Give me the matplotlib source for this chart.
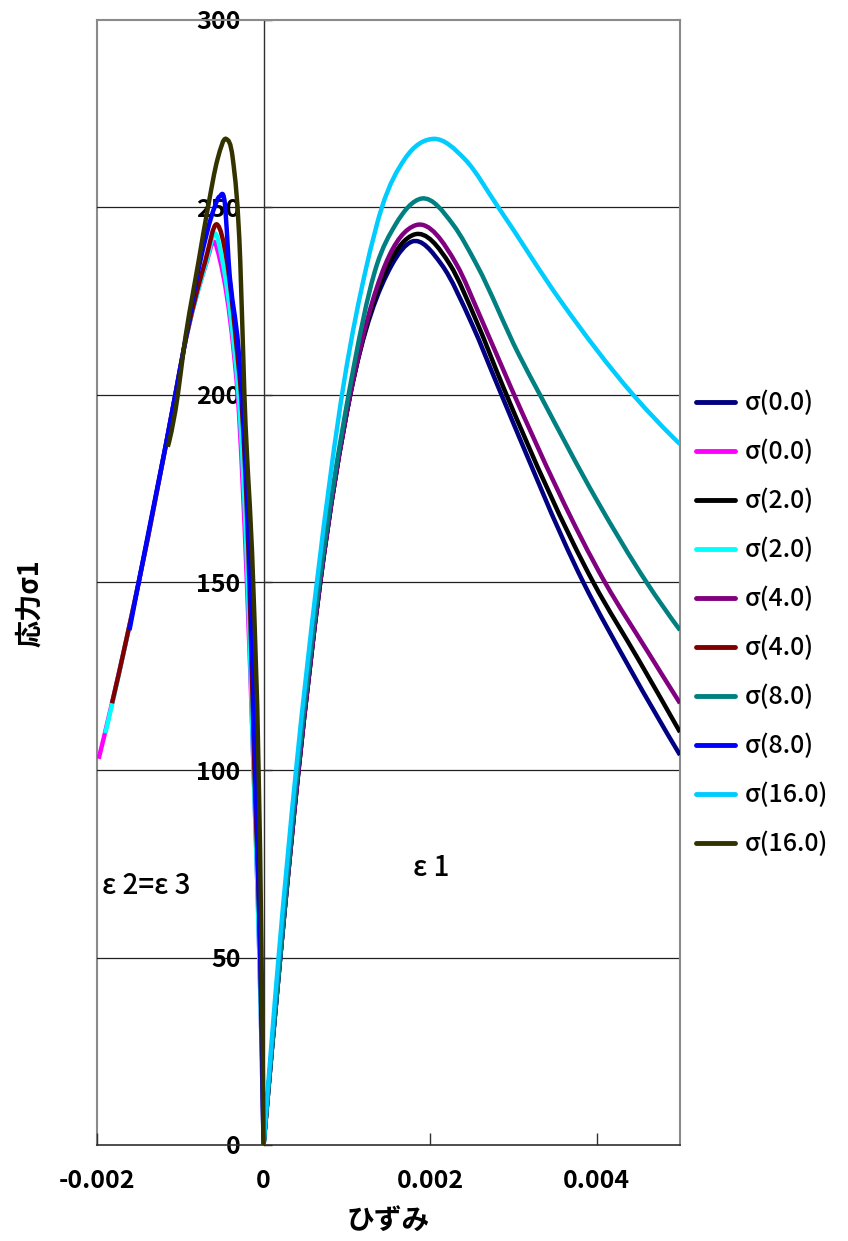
import matplotlib
matplotlib.use("Agg")
import matplotlib.pyplot as plt
from matplotlib.path import Path
from matplotlib.patches import PathPatch
from matplotlib.lines import Line2D

plt.rcParams['font.family'] = ['Noto Sans CJK JP', 'DejaVu Sans']
plt.rcParams['axes.unicode_minus'] = False

# ---------------- data ----------------
labels = ["σ(0.0)", "σ(0.0)", "σ(2.0)", "σ(2.0)", "σ(4.0)",
          "σ(4.0)", "σ(8.0)", "σ(8.0)", "σ(16.0)", "σ(16.0)"]
colors = ["#000080", "#FF00FF", "#000000", "#00FFFF", "#800080",
          "#800000", "#008080", "#0000FF", "#00CCFF", "#333300"]

# σ(0.0)  ε1
x_s0_e1 = [0, 0.0002, 0.00042, 0.00068, 0.00104, 0.00154, 0.00178,
           0.00214, 0.0025, 0.00282, 0.00384, 0.0044, 0.005]
y_s0_e1 = [0, 50, 100, 150, 200, 234.7, 240.9,
           234.7, 219, 202, 150, 127, 104]
# σ(0.0)  ε2=ε3
x_s0_e2 = [0, -0.00005, -0.00012, -0.0002, -0.00031, -0.00036, -0.00052, -0.0006,
           -0.00068, -0.00096, -0.00106, -0.0015, -0.00198]
y_s0_e2 = [0, 50, 100, 150, 200, 212, 235.7, 240.9,
           235.7, 212, 200, 150, 103]
# σ(2.0)  ε1
x_s2_e1 = [0, 0.0002, 0.00042, 0.00068, 0.00104, 0.0015, 0.00181,
           0.00224, 0.00255, 0.00288, 0.00396, 0.0045, 0.005]
y_s2_e1 = [0, 50, 100, 150, 200, 234.7, 242.8,
           234.7, 220, 202, 150, 129.5, 110.1]
# σ(2.0)  ε2=ε3
x_s2_e2 = [0, -0.00005, -0.00012, -0.00019, -0.0003, -0.00035, -0.0005, -0.00058,
           -0.00068, -0.00096, -0.00106, -0.0015, -0.0019]
y_s2_e2 = [0, 50, 100, 150, 200, 212, 236.5, 243.1,
           236, 212, 200, 150, 109.8]
# σ(4.0)  ε1
x_s4_e1 = [0, 0.0002, 0.00042, 0.00068, 0.00104, 0.00146, 0.00183,
           0.00232, 0.0026, 0.00297, 0.0041, 0.0046, 0.005]
y_s4_e1 = [0, 50, 100, 150, 200, 234.7, 245.3,
           234.7, 221, 202, 150, 132, 117.8]
# σ(4.0)  ε2=ε3
x_s4_e2 = [0, -0.00004, -0.00011, -0.00017, -0.00027, -0.00032, -0.00044, -0.00056,
           -0.0007, -0.00096, -0.00106, -0.0015, -0.00182]
y_s4_e2 = [0, 50, 100, 150, 200, 212, 235.7, 245.5,
           235.7, 212, 200, 150, 117.8]
# σ(8.0)  ε1
x_s8_e1 = [0, 0.0002, 0.00041, 0.00067, 0.00102, 0.00136, 0.00158, 0.0019,
           0.00228, 0.00256, 0.00306, 0.00332, 0.004, 0.0046, 0.005]
y_s8_e1 = [0, 50, 100, 150, 200, 234.7, 245.3, 252.4,
           245.3, 234.7, 211, 200, 172, 150, 137.3]
# σ(8.0)  ε2=ε3
x_s8_e2 = [0, -0.00004, -0.0001, -0.00016, -0.00026, -0.0003, -0.00042, -0.00046, -0.00053,
           -0.00059, -0.00076, -0.00096, -0.00106, -0.0015, -0.00161]
y_s8_e2 = [0, 50, 100, 150, 200, 212, 235.7, 250, 252.9,
           250, 235.7, 212, 200, 150, 137.3]
# σ(16.0) ε1
x_s16_e1 = [0, 0.00018, 0.00039, 0.00064, 0.00097, 0.00124, 0.00142, 0.0017, 0.00204,
            0.00242, 0.00282, 0.00356, 0.00444, 0.005]
y_s16_e1 = [0, 50, 100, 150, 204, 234.7, 250, 263.1, 268.3,
            262.8, 250, 225.3, 200, 186.9]
# σ(16.0) ε2=ε3
x_s16_e2 = [0, -0.000024, -0.00006, -0.000125, -0.00023, -0.00028, -0.00037,
            -0.00045, -0.00055, -0.000668, -0.00078, -0.00096, -0.00103, -0.00115]
y_s16_e2 = [0, 50, 100, 150, 200, 235.7, 263.1,
            268.3, 263.1, 250, 235.7, 212, 200, 186.2]

series_x = [x_s0_e1, x_s0_e2, x_s2_e1, x_s2_e2, x_s4_e1,
            x_s4_e2, x_s8_e1, x_s8_e2, x_s16_e1, x_s16_e2]
series_y = [y_s0_e1, y_s0_e2, y_s2_e1, y_s2_e2, y_s4_e1,
            y_s4_e2, y_s8_e1, y_s8_e2, y_s16_e1, y_s16_e2]

x_ticks = [-0.002, 0, 0.002, 0.004]
x_tick_labels = ["-0.002", "0", "0.002", "0.004"]
y_ticks = [0, 50, 100, 150, 200, 250, 300]
y_tick_labels = ["0", "50", "100", "150", "200", "250", "300"]


def smooth_path(xs, ys):
    """Smoothed line through the read points (cubic Hermite with 3-point parabolic slopes)."""
    pts = sorted(zip(xs, ys))
    x = [p[0] for p in pts]
    y = [p[1] for p in pts]
    n = len(x)
    h = [x[k + 1] - x[k] for k in range(n - 1)]
    dl = [(y[k + 1] - y[k]) / h[k] for k in range(n - 1)]
    d = [0.0] * n
    for k in range(1, n - 1):
        d[k] = (h[k] * dl[k - 1] + h[k - 1] * dl[k]) / (h[k - 1] + h[k])
    d[0] = ((2 * h[0] + h[1]) * dl[0] - h[0] * dl[1]) / (h[0] + h[1])
    d[-1] = ((2 * h[-1] + h[-2]) * dl[-1] - h[-1] * dl[-2]) / (h[-1] + h[-2])
    verts = [(x[0], y[0])]
    codes = [Path.MOVETO]
    for k in range(n - 1):
        t = h[k] / 3.0
        verts += [(x[k] + t, y[k] + d[k] * t), (x[k + 1] - t, y[k + 1] - d[k + 1] * t),
                  (x[k + 1], y[k + 1])]
        codes += [Path.CURVE4] * 3
    return Path(verts, codes)


# ---------------- figure ----------------
W, H = 848, 1241
fig = plt.figure(figsize=(W / 100, H / 100), dpi=100)
ax = fig.add_axes([97 / W, 96 / H, 583 / W, 1125 / H])
ax.set_xlim(-0.002, 0.005)
ax.set_ylim(0, 300)

grey = "#8a8a8a"
dark = "#303030"

for yv in y_ticks[1:-1]:
    ax.axhline(yv, color="#202020", lw=0.9, zorder=1)

ax.spines['left'].set_position(('data', 0))
ax.spines['left'].set_color(dark)
ax.spines['left'].set_linewidth(1.0)
ax.spines['bottom'].set_color(dark)
ax.spines['bottom'].set_linewidth(1.2)
for s in ('top', 'right'):
    ax.spines[s].set_color(grey)
    ax.spines[s].set_linewidth(1.5)
ax.plot([0, 0], [0, 1], transform=ax.transAxes, color=grey, lw=1.5, clip_on=False, zorder=0.5)

handles = []
for xs, ys, c, lab in zip(series_x, series_y, colors, labels):
    patch = PathPatch(smooth_path(xs, ys), facecolor='none', edgecolor=c, lw=3.2,
                      zorder=3, joinstyle='round', capstyle='butt')
    ax.add_patch(patch)
    handles.append(Line2D([], [], color=c, lw=3.5, solid_capstyle='round', label=lab))

ax.set_xticks(x_ticks)
ax.set_xticklabels(x_tick_labels)
ax.set_yticks(y_ticks)
ax.set_yticklabels(y_tick_labels)
ax.tick_params(axis='x', direction='in', length=8.5, width=1, color=dark, pad=17,
               labelsize=18)
ax.tick_params(axis='y', direction='in', length=6, width=1, color=dark, pad=16.5,
               labelsize=18)
for t in ax.get_xticklabels() + ax.get_yticklabels():
    t.set_fontweight('bold')

ax.text(-0.001936, 69.3, "ε 2=ε 3", fontsize=20, fontweight='medium', ha='left', va='center')
ax.text(0.0018, 73.9, "ε 1", fontsize=20, fontweight='medium', ha='left', va='center')

fig.text(388 / W, 1 - 1222 / H, "ひずみ", fontsize=20, fontweight='bold', ha='center', va='center')
fig.text(30 / W, 1 - 603 / H, "応力σ1", fontsize=19.5, fontweight='bold', ha='center', va='center',
         rotation=90)

leg = fig.legend(handles=handles, loc='center left', bbox_to_anchor=(696 / W, 1 - 624 / H),
                 frameon=False, fontsize=18, handlelength=1.55, handletextpad=0.4,
                 labelspacing=0.92, borderpad=0, borderaxespad=0)
for t in leg.get_texts():
    t.set_fontweight('medium')

fig.savefig("out.png", dpi=100)
